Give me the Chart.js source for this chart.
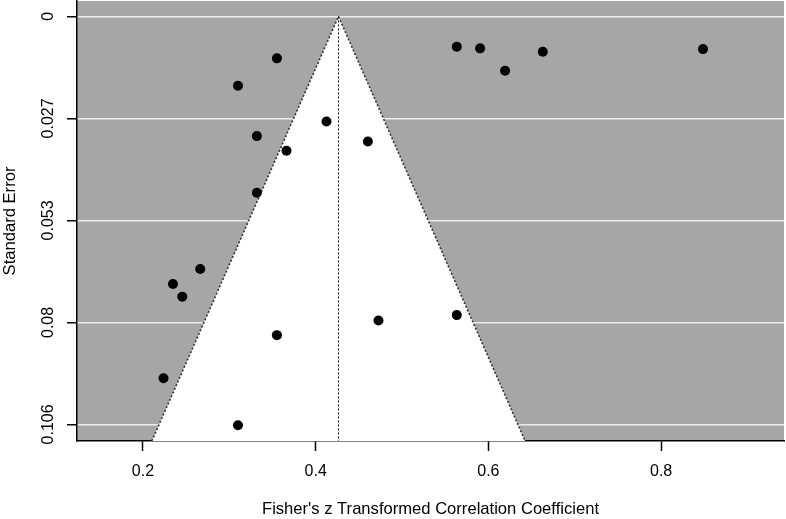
<!DOCTYPE html>
<html>
<head>
<meta charset="utf-8">
<script src="https://cdn.jsdelivr.net/npm/chart.js@4"></script>
<style>
  html, body { margin: 0; padding: 0; background: #fff; }
  #wrap { width: 786px; height: 519px; }
</style>
</head>
<body>
<div id="wrap"><canvas id="funnel"></canvas></div>
<script>
// study estimates (Fisher's z) and their standard errors
const studyZ  = [0.3551, 0.3100, 0.5634, 0.5904, 0.6193, 0.6630, 0.8485, 0.4125, 0.3319, 0.4604,
                 0.3662, 0.3319, 0.2663, 0.2347, 0.2455, 0.5634, 0.4727, 0.3551, 0.2238, 0.3100];
const studySE = [0.0109, 0.0180, 0.0079, 0.0083, 0.0141, 0.0092, 0.0085, 0.0273, 0.0311, 0.0325,
                 0.0349, 0.0458, 0.0656, 0.0695, 0.0728, 0.0776, 0.0790, 0.0828, 0.0940, 0.1062];

// pooled estimate
const summaryZ = 0.4264;

const xTicks = [0.2, 0.4, 0.6, 0.8];
const yTicks = [0, 0.0265, 0.053, 0.0795, 0.106];
const yTickLabels = ['0', '0.027', '0.053', '0.08', '0.106'];

const X_MIN = 0.1236, X_MAX = 0.9423;
const SE_MIN = -0.0040, SE_MAX = 0.1103;

const FONT = "'Liberation Sans', Arial, Helvetica, sans-serif";

// points of the pseudo confidence funnel
const funnelPts = [
  { x: summaryZ - 1.96 * SE_MAX, y: SE_MAX },
  { x: summaryZ, y: 0 },
  { x: summaryZ + 1.96 * SE_MAX, y: SE_MAX }
];

const studyPts = studyZ.map((z, i) => ({ x: z, y: studySE[i] }));

// grey plot background
const plotBg = {
  id: 'plotBg',
  beforeDraw(chart) {
    const { ctx, chartArea: a } = chart;
    ctx.save();
    ctx.fillStyle = '#a6a6a6';
    ctx.fillRect(a.left, a.top, a.right - a.left, a.bottom - a.top);
    ctx.restore();
  }
};

// no extra room for edge labels, the plot box is fixed
function noPad(s) {
  s.paddingTop = 0; s.paddingBottom = 0;
  s.paddingLeft = 0; s.paddingRight = 0;
}

const ctx = document.getElementById('funnel').getContext('2d');
new Chart(ctx, {
  type: 'scatter',
  data: {
    datasets: [
      {
        label: 'studies',
        data: studyPts,
        pointRadius: 5,
        pointHoverRadius: 5,
        pointBackgroundColor: '#000',
        pointBorderWidth: 0,
        showLine: false
      },
      {
        label: 'estimate',
        data: [{ x: summaryZ, y: 0 }, { x: summaryZ, y: SE_MAX }],
        showLine: true,
        borderColor: '#111',
        borderWidth: 1,
        borderDash: [2, 2],
        pointRadius: 0
      },
      {
        label: 'funnel',
        data: funnelPts,
        showLine: true,
        borderColor: '#333',
        borderWidth: 1.6,
        borderDash: [2, 2],
        backgroundColor: '#ffffff',
        fill: { value: SE_MAX },
        pointRadius: 0,
        tension: 0
      }
    ]
  },
  options: {
    responsive: true,
    maintainAspectRatio: false,
    animation: false,
    layout: { autoPadding: false, padding: { top: 1, right: 2, left: 0, bottom: 0 } },
    plugins: {
      legend: { display: false },
      tooltip: { enabled: false }
    },
    scales: {
      x: {
        type: 'linear',
        min: X_MIN,
        max: X_MAX,
        afterBuildTicks: s => { s.ticks = xTicks.map(v => ({ value: v })); },
        afterFit: s => { s.height = 78; noPad(s); },
        border: { color: '#000', width: 1.5 },
        grid: { drawOnChartArea: false, tickColor: '#000', tickLength: 10, tickWidth: 1.5 },
        ticks: {
          padding: 11,
          color: '#000',
          font: { family: FONT, size: 16 },
          callback: v => v.toFixed(1)
        },
        title: {
          display: true,
          text: "Fisher's z Transformed Correlation Coefficient",
          color: '#000',
          font: { family: FONT, size: 16.6 },
          padding: 0
        }
      },
      y: {
        type: 'linear',
        reverse: true,
        min: SE_MIN,
        max: SE_MAX,
        afterBuildTicks: s => { s.ticks = yTicks.map(v => ({ value: v })); },
        afterFit: s => { s.width = 77; noPad(s); },
        border: { color: '#000', width: 1.5 },
        grid: { color: '#ececec', lineWidth: 1.5, tickColor: '#000', tickLength: 10, tickWidth: 1.5 },
        ticks: {
          padding: -2,
          minRotation: 90,
          maxRotation: 90,
          crossAlign: 'center',
          color: '#000',
          font: { family: FONT, size: 16 },
          callback: (v, i) => yTickLabels[i]
        },
        title: {
          display: true,
          text: 'Standard Error',
          color: '#000',
          font: { family: FONT, size: 16.6 },
          padding: 0
        }
      }
    }
  },
  plugins: [plotBg]
});
</script>
</body>
</html>
